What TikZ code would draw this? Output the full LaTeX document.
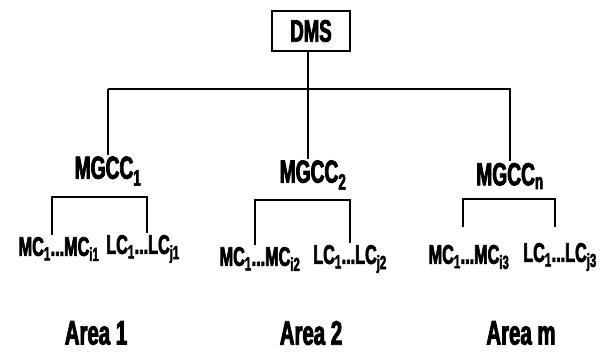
\documentclass[tikz,border=0pt]{standalone}
\usepackage{fontspec}
\setmainfont{Liberation Sans}[FakeStretch=0.6, BoldFeatures={FakeBold=2.5}]
\usepackage{tikz}
\usetikzlibrary{positioning, calc}

\begin{document}
\begin{tikzpicture}[x=1pt, y=-1pt, line width=1.3pt,
  top/.style={draw, minimum width=78pt, minimum height=40pt, inner sep=0pt,
              font=\fontsize{31}{33}\selectfont\bfseries},
  grp/.style={inner sep=1pt, font=\fontsize{32}{34}\selectfont\bfseries},
  leaf/.style={inner sep=1pt, font=\fontsize{27}{29}\selectfont\bfseries},
  area/.style={inner sep=0pt, font=\fontsize{34}{36}\selectfont\bfseries}]

  \useasboundingbox (0,0) rectangle (606,353);

  \node[top] (dms) at (311,31) {DMS};

  \node[grp] (mgcc1) at (108,171) {MGCC\textsubscript{1}};
  \node[grp] (mgcc2) at (313,175) {MGCC\textsubscript{2}};
  \node[grp] (mgccn) at (510,176) {MGCC\textsubscript{n}};

  \node[leaf] (mc1) at (59,249)  {MC\textsubscript{1}...MC\textsubscript{i1}};
  \node[leaf] (lc1) at (143,249) {LC\textsubscript{1}...LC\textsubscript{j1}};
  \node[leaf] (mc2) at (260,259) {MC\textsubscript{1}...MC\textsubscript{i2}};
  \node[leaf] (lc2) at (350,259) {LC\textsubscript{1}...LC\textsubscript{j2}};
  \node[leaf] (mc3) at (469,257) {MC\textsubscript{1}...MC\textsubscript{i3}};
  \node[leaf] (lc3) at (560,257) {LC\textsubscript{1}...LC\textsubscript{j3}};

  \node[area] (area1) at (96,333)  {Area 1};
  \node[area] (area2) at (311,333) {Area 2};
  \node[area] (aream) at (521,333) {Area m};

  % top level
  \coordinate (bus) at (308,89);
  \draw (dms.south -| bus) -- (bus |- mgcc2.north);
  \draw (bus -| mgcc1.north) |- (bus) -| (mgccn.north);
  \draw (bus -| mgcc1.north) -- (mgcc1.north);

  % area brackets
  \coordinate (b1l) at (52,197);  \coordinate (b1r) at (147,197);
  \coordinate (b2l) at (255,200); \coordinate (b2r) at (350,200);
  \coordinate (b3l) at (463,199); \coordinate (b3r) at (555,199);
  \draw (b1l |- mc1.north) -- (b1l) -- (b1r) -- (b1r |- lc1.north);
  \draw (b2l |- mc2.north) -- (b2l) -- (b2r) -- (b2r |- lc2.north);
  \draw (b3l |- 0,227) -- (b3l) -- (b3r) -- (b3r |- 0,227);

\end{tikzpicture}
\end{document}
